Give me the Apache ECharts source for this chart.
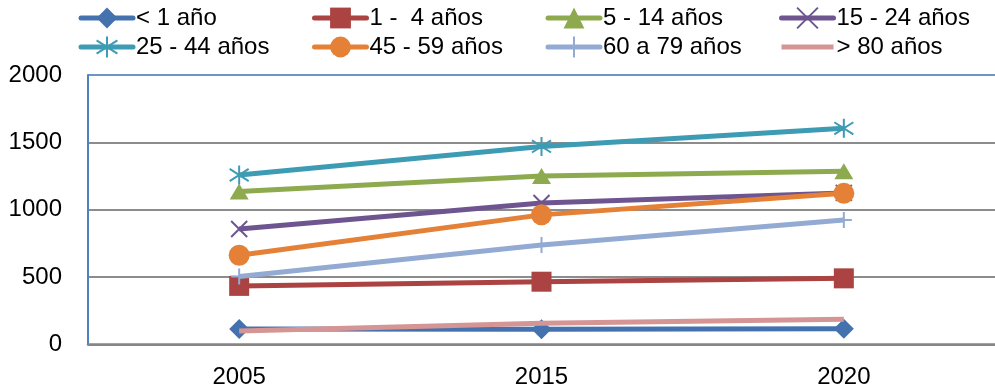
<!DOCTYPE html>
<html>
<head>
<meta charset="utf-8">
<script src="https://cdn.jsdelivr.net/npm/echarts@6/dist/echarts.min.js"></script>
<style>
  html, body { margin: 0; padding: 0; background: #ffffff; }
  #chart { width: 995px; height: 392px; }
</style>
</head>
<body>
<div id="chart"></div>
<script>
// Población por grupo de edad (años 2005, 2015, 2020)
const years = ['2005', '2015', '2020'];
const yTicks = [0, 500, 1000, 1500, 2000];

const seriesNames = ['< 1 año', '1 -  4 años', '5 - 14 años', '15 - 24 años',
                     '25 - 44 años', '45 - 59 años', '60 a 79 años', '> 80 años'];

const menor1   = [115, 113, 117];
const de1a4    = [435, 466, 491];
const de5a14   = [1135, 1250, 1285];
const de15a24  = [857, 1050, 1125];
const de25a44  = [1258, 1470, 1604];
const de45a59  = [662, 962, 1122];
const de60a79  = [505, 738, 924];
const mayor80  = [100, 157, 187];

const colors = ['#4472AE', '#AA4341', '#8DAA4F', '#6E5590', '#3E9BB4', '#E48137', '#93AAD3', '#D59594'];

// stroke-only marker outlines
const xPath = 'path://M0,0 L10,10 M10,0 L0,10';
const starPath = 'path://M0,1.8 L10,8.2 M0,8.2 L10,1.8 M5,0 L5,10';
const plusPath = 'path://M5,0 L5,10 M0,5 L10,5';
const barPath = 'path://M0,0 L52,0 L52,5 L0,5 Z';

const dataSets = [menor1, de1a4, de5a14, de15a24, de25a44, de45a59, de60a79, mayor80];
const markers = [
  { symbol: 'diamond', size: 20, stroke: false },
  { symbol: 'rect', size: 20, stroke: false },
  { symbol: 'triangle', size: [19, 16], stroke: false },
  { symbol: xPath, size: 16, stroke: true },
  { symbol: starPath, size: 19, stroke: true },
  { symbol: 'circle', size: 21, stroke: false },
  { symbol: plusPath, size: 16, stroke: true },
  { symbol: 'none', size: 0, stroke: false }
];

const series = seriesNames.map((name, i) => {
  const m = markers[i];
  return {
    name: name,
    type: 'line',
    data: dataSets[i],
    symbol: m.symbol,
    symbolSize: m.size,
    showSymbol: m.symbol !== 'none',
    lineStyle: { color: colors[i], width: 5 },
    itemStyle: m.stroke
      ? { color: 'none', borderColor: colors[i], borderWidth: 2 }
      : { color: colors[i], borderWidth: 0 },
    emphasis: { disabled: true },
    animation: false,
    z: 2 + i
  };
});

const font = 'Liberation Sans, Arial, sans-serif';

// one vertical legend per column, two entries each
const legends = [0, 1, 2, 3].map(col => ({
  left: 78.5 + 233.5 * col,
  top: 5,
  padding: 0,
  orient: 'vertical',
  itemWidth: 52,
  itemHeight: 26,
  itemGap: 3,
  selectedMode: false,
  lineStyle: { width: 5, cap: 'round' },
  textStyle: { fontFamily: font, fontSize: 24, lineHeight: 26, color: '#000', padding: [0, 0, 0, -2] },
  data: [col, col + 4].map(k => (markers[k].symbol === 'none'
    ? { name: seriesNames[k], icon: barPath, itemStyle: { color: colors[k] } }
    : { name: seriesNames[k] }))
}));

const chart = echarts.init(document.getElementById('chart'), null, { renderer: 'canvas' });
chart.setOption({
  backgroundColor: '#ffffff',
  animation: false,
  legend: legends,
  grid: { left: 88, top: 75, bottom: 47.5, right: -10, containLabel: false },
  xAxis: {
    type: 'category',
    data: years,
    boundaryGap: true,
    axisLine: { lineStyle: { color: '#868686', width: 2.5 } },
    axisTick: { show: false },
    axisLabel: { fontFamily: font, fontSize: 24, color: '#000', margin: 21 }
  },
  yAxis: {
    type: 'value',
    min: yTicks[0],
    max: yTicks[yTicks.length - 1],
    interval: 500,
    axisLine: { show: true, lineStyle: { color: '#4F81BD', width: 2 } },
    axisTick: { show: false },
    axisLabel: { fontFamily: font, fontSize: 24, color: '#000', margin: 26, formatter: v => String(v) },
    splitLine: {
      show: true,
      lineStyle: { color: ['#868686', '#8c8c8c', '#8c8c8c', '#8c8c8c', '#6E93C6'], width: 2 }
    }
  },
  series: series
});
</script>
</body>
</html>
